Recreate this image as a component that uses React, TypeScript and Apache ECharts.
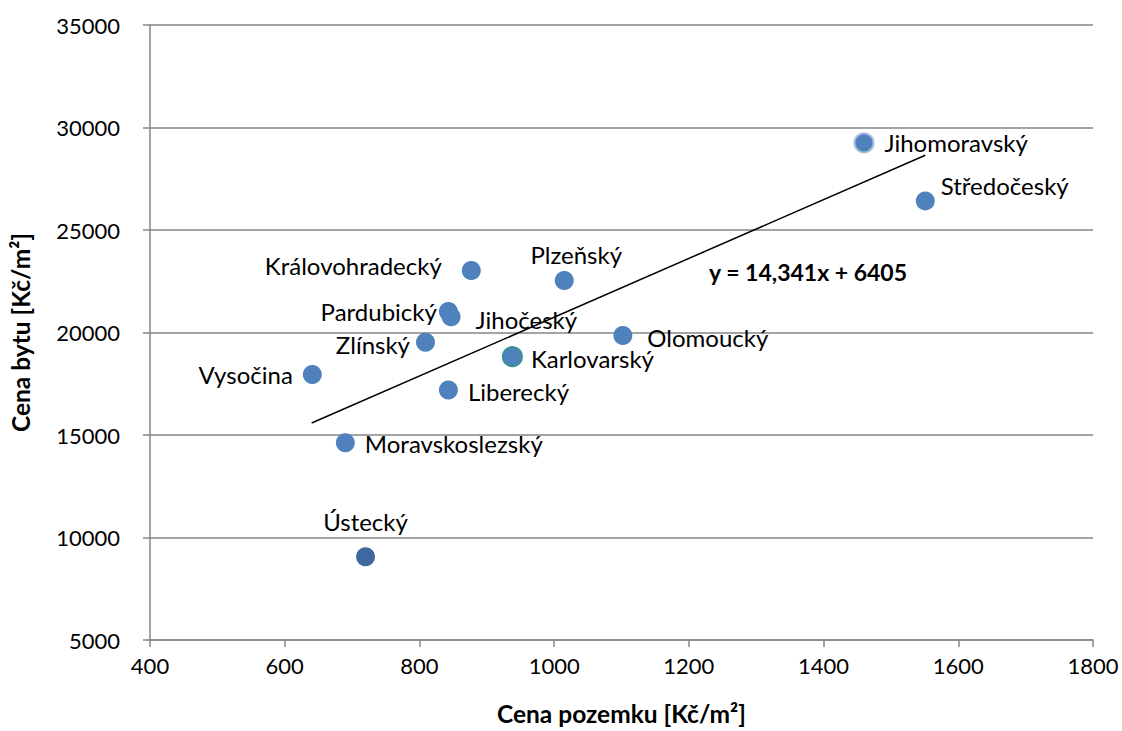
import React, { useEffect, useRef } from "react";
import * as echarts from "echarts";

const regions = [
  "Jihomoravský", "Středočeský", "Plzeňský", "Královohradecký", "Pardubický",
  "Jihočeský", "Olomoucký", "Zlínský", "Karlovarský", "Vysočina",
  "Liberecký", "Moravskoslezský", "Ústecký",
];
const landPrice = [1460, 1551, 1015, 877, 843, 847, 1102, 809, 938, 641, 843, 690, 720];
const flatPrice = [29250, 26420, 22540, 23020, 21030, 20770, 19850, 19520, 18820, 17950, 17200, 14620, 9060];
const trendSlope = 14.341;
const trendIntercept = 6405;
const trendRange = [640, 1551];
const xTicks = [400, 1800, 200];
const yTicks = [5000, 35000, 5000];

const FONT = "Lato, 'Open Sans', sans-serif";
const LABEL_SIZE = 24;

const labelPlacement: Record<string, any> = {
  "Jihomoravský": { position: "right", distance: 10 },
  "Středočeský": { position: "right", distance: 6, offset: [0, -15] },
  "Plzeňský": { position: "top", distance: 4, offset: [12, 0] },
  "Královohradecký": { position: "left", distance: 20, offset: [0, -5] },
  "Pardubický": { position: "left", distance: 2 },
  "Jihočeský": { position: "right", distance: 15, offset: [0, 3] },
  "Olomoucký": { position: "right", distance: 15, offset: [0, 2] },
  "Zlínský": { position: "left", distance: 6, offset: [0, 2] },
  "Karlovarský": { position: "right", distance: 8, offset: [0, 2] },
  "Vysočina": { position: "left", distance: 10 },
  "Liberecký": { position: "right", distance: 10, offset: [0, 2] },
  "Moravskoslezský": { position: "right", distance: 10, offset: [0, 1] },
  "Ústecký": { position: "top", distance: 14 },
};

function itemStyleFor(name: string) {
  if (name === "Jihomoravský") return { color: "#4F81BD", borderColor: "#A7BEDE", borderWidth: 2, opacity: 1 };
  if (name === "Karlovarský") return { color: "#4F81BD", borderColor: "#3B9191", borderWidth: 2, opacity: 1 };
  if (name === "Ústecký") return { color: "#3F68A0", opacity: 1 };
  return { color: "#4F81BD", opacity: 1 };
}

export default function App() {
  const ref = useRef<HTMLDivElement>(null);
  useEffect(() => {
    if (!ref.current) return;
    document.body.style.margin = "0";
    document.body.style.overflow = "hidden";
    const chart = echarts.init(ref.current, undefined, { renderer: "svg" });
    const points = regions.map((name, i) => ({
      name,
      value: [landPrice[i], flatPrice[i]],
      label: {
        show: true, color: "#000", fontSize: LABEL_SIZE, fontFamily: FONT, formatter: "{b}",
        ...labelPlacement[name],
      },
      itemStyle: itemStyleFor(name),
    }));
    const trend = trendRange.map((x) => [x, trendSlope * x + trendIntercept]);
    const axisCommon = {
      axisLine: { show: true, lineStyle: { color: "#868686", width: 1.5 } },
      axisTick: { show: true, length: 7, lineStyle: { color: "#868686", width: 1.5 } },
    };
    chart.setOption({
      animation: false,
      backgroundColor: "#fff",
      grid: { left: 148, right: 29, top: 25, bottom: 84 },
      xAxis: {
        type: "value",
        min: xTicks[0], max: xTicks[1], interval: xTicks[2],
        name: "Cena pozemku [Kč/m²]",
        nameLocation: "middle", nameGap: 61,
        nameTextStyle: { fontSize: 24.5, fontWeight: "bold", color: "#000", fontFamily: FONT },
        ...axisCommon,
        axisLabel: { fontSize: 22, color: "#000", fontFamily: FONT, margin: 14, formatter: (v: number) => String(v) },
        splitLine: { show: false },
      },
      yAxis: {
        type: "value",
        min: yTicks[0], max: yTicks[1], interval: yTicks[2],
        name: "Cena bytu [Kč/m²]",
        nameLocation: "middle", nameGap: 117, nameRotate: 90,
        nameTextStyle: { fontSize: 24.5, fontWeight: "bold", color: "#000", fontFamily: FONT },
        ...axisCommon,
        axisLabel: { fontSize: 22, color: "#000", fontFamily: FONT, margin: 30, formatter: (v: number) => String(v) },
        splitLine: { show: true, lineStyle: { color: "#868686", width: 1.5 } },
      },
      series: [
        {
          type: "line",
          data: trend,
          symbol: "none",
          lineStyle: { color: "#000", width: 1.5 },
          z: 3,
          silent: true,
        },
        {
          type: "scatter",
          symbolSize: 19,
          data: points,
          z: 2,
        },
      ],
      graphic: [
        {
          type: "text",
          left: 709,
          top: 260,
          style: {
            text: "y = 14,341x + 6405",
            fontSize: 23,
            fontWeight: "bold",
            fill: "#000",
            fontFamily: FONT,
          },
        },
      ],
    });
    return () => chart.dispose();
  }, []);
  return <div ref={ref} style={{ width: 1122, height: 731, overflow: "hidden" }} />;
}
